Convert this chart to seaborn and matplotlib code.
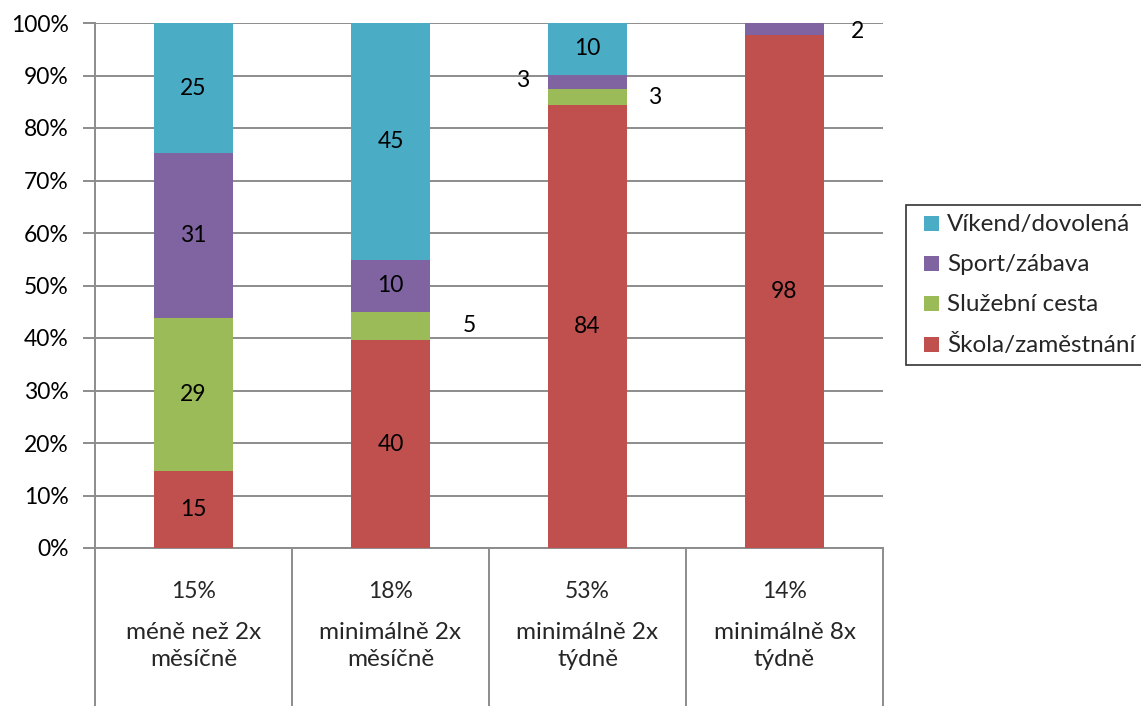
import matplotlib
matplotlib.use("Agg")
import matplotlib.pyplot as plt
import matplotlib.transforms as mtransforms
from matplotlib.lines import Line2D
import seaborn as sns
import pandas as pd
import numpy as np

sns.set_theme(style="white")
plt.rcParams['font.family'] = ['Lato', 'DejaVu Sans']

categories = ["méně než 2x\nměsíčně", "minimálně 2x\nměsíčně", "minimálně 2x\ntýdně", "minimálně 8x\ntýdně"]
shares = ["15%", "18%", "53%", "14%"]
skola = [14.7, 39.6, 84.4, 97.7]
sluzebni = [29.1, 5.4, 3.0, 0.0]
sport = [31.4, 9.9, 2.7, 2.3]
vikend = [24.8, 45.1, 9.9, 0.0]

series_names = ["Škola/zaměstnání", "Služební cesta", "Sport/zábava", "Víkend/dovolená"]
series_vals = [skola, sluzebni, sport, vikend]
colors = ["#C0504D", "#9BBB59", "#8064A2", "#4BACC6"]

FS_NUM = 16.5
FS_TXT = 17.5
W, H = 1141, 706
fig = plt.figure(figsize=(W / 100, H / 100), dpi=100)
ax = fig.add_axes([95 / W, (H - 548) / H, 788 / W, 525 / H])

x_idx = list(range(len(categories)))
cum = np.cumsum(np.array(series_vals), axis=0)
# draw from top series down, overlaying cumulative bars
for i in reversed(range(len(series_names))):
    df = pd.DataFrame({"cat": x_idx, "val": cum[i]})
    sns.barplot(data=df, x="cat", y="val", color=colors[i], saturation=1,
                width=0.4, ax=ax, linewidth=0, zorder=3)

ax.set_ylim(0, 100)
ax.set_xlim(-0.5, 3.5)
ax.set_yticks(np.arange(0, 101, 10))
ax.set_yticklabels([f"{v}%" for v in range(0, 101, 10)], fontsize=FS_NUM, color="black")
ax.yaxis.grid(True, color="#8c8c8c", linewidth=1.4, zorder=0)
ax.set_axisbelow(True)
ax.tick_params(axis="y", direction="out", length=9, width=1.4, color="#8c8c8c", pad=10, left=True)
ax.set_xticks([])
ax.set_xlabel("")
ax.set_ylabel("")
for s in ["top", "right"]:
    ax.spines[s].set_visible(False)
for s in ["left", "bottom"]:
    ax.spines[s].set_color("#8c8c8c")
    ax.spines[s].set_linewidth(1.4)

# value labels: (category, series) -> (x offset, y position) for labels placed beside the bar
outside = {
    (1, 1): (0.40, None),
    (2, 2): (-0.33, 89.0),
    (2, 1): (0.34, 85.8),
    (3, 2): (0.37, 98.3),
}
for i, vals in enumerate(series_vals):
    for j, v in enumerate(vals):
        if v <= 0:
            continue
        lo = cum[i][j] - v
        mid = lo + v / 2
        lab = f"{int(round(v))}"
        if (j, i) in outside:
            dx, yy = outside[(j, i)]
            if yy is None:
                yy = mid
            ax.text(j + dx, yy, lab, ha="center", va="center", fontsize=FS_NUM, color="black", zorder=5)
        else:
            ax.text(j, mid, lab, ha="center", va="center", fontsize=FS_NUM, color="black", zorder=5)

# category area below axis
trans = mtransforms.blended_transform_factory(ax.transData, ax.transAxes)
for xb in [-0.5, 0.5, 1.5, 2.5, 3.5]:
    ax.plot([xb, xb], [0, -0.31], transform=trans, color="#8c8c8c", linewidth=1.4, clip_on=False)
for j, (sh, cat) in enumerate(zip(shares, categories)):
    ax.text(j, (548 - 592) / 525, sh, transform=trans, ha="center", va="center", fontsize=FS_NUM)
    ax.text(j, (548 - 646) / 525, cat, transform=trans, ha="center", va="center", fontsize=FS_TXT,
            linespacing=1.34)

# legend
handles = [Line2D([], [], marker="s", linestyle="none", markersize=10.8,
                  markerfacecolor=colors[i], markeredgewidth=0, label=series_names[i])
           for i in reversed(range(4))]
leg = fig.legend(handles=handles, loc="upper left", bbox_to_anchor=(906 / W, 1 - 205 / H),
                 frameon=True, fancybox=False, fontsize=FS_TXT, handlelength=1.3,
                 handletextpad=0.0, labelspacing=0.78, borderpad=0.38, borderaxespad=0)
leg.get_frame().set_edgecolor("black")
leg.get_frame().set_linewidth(1.2)

fig.savefig("out.png", dpi=100)
